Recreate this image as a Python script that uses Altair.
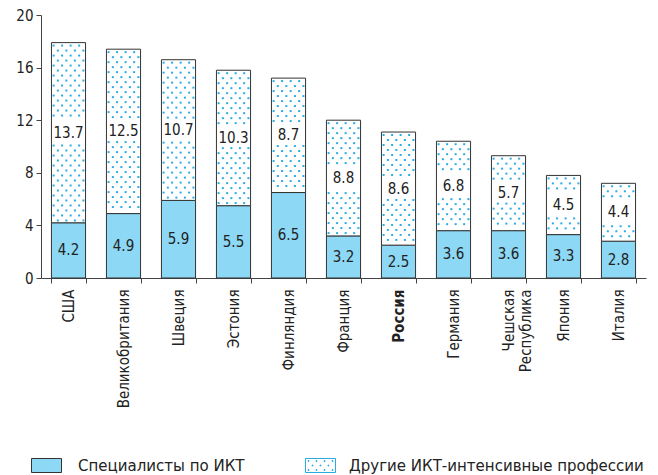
import altair as alt
import pandas as pd

countries = ["США", "Великобритания", "Швеция", "Эстония", "Финляндия", "Франция",
             "Россия", "Германия", "Чешская Республика", "Япония", "Италия"]
ict = [4.2, 4.9, 5.9, 5.5, 6.5, 3.2, 2.5, 3.6, 3.6, 3.3, 2.8]
other = [13.7, 12.5, 10.7, 10.3, 8.7, 8.8, 8.6, 6.8, 5.7, 4.5, 4.4]
series_names = ["Специалисты по ИКТ", "Другие ИКТ-интенсивные профессии"]
y_ticks = [0, 4, 8, 12, 16, 20]

FONT = "Liberation Sans Narrow, DejaVu Sans Condensed, sans-serif"
BLUE = "#8dd8f5"
DOT = "#29abe2"
EDGE = "#333333"

df = pd.DataFrame({"country": countries, "ict": ict, "other": other})
df["total"] = df["ict"] + df["other"]
df["mid_ict"] = df["ict"] / 2
df["mid_other"] = df["ict"] + df["other"] / 2
df["s1"] = series_names[0]
df["s2"] = series_names[1]

# dotted texture of the upper segments, derived from the data
ROW = 0.38
DOT_H = 0.15
dots = []
for c, a, b in zip(countries, ict, other):
    top = a + b
    mid = a + b / 2
    k = 0
    y = top - 0.3
    while y > a + 0.08:
        if abs(y - mid) > 0.85:
            cols = [0, 2, 4, 6] if k % 2 == 0 else [1, 3, 5, 7]
            for col in cols:
                dots.append({"country": c, "y": y, "y2": y + DOT_H, "col": col})
        k += 1
        y -= ROW
dots_df = pd.DataFrame(dots)

x_enc = alt.X(
    "country:N", sort=countries,
    scale=alt.Scale(paddingInner=0.38, paddingOuter=0.19),
    axis=alt.Axis(
        title=None, labelAngle=270, tickBand="extent", tickSize=5,
        labelPadding=6, labelFontSize=15, labelColor="#222222", labelFont=FONT,
        domainColor="#444444", tickColor="#444444",
        labelExpr="datum.value == 'Чешская Республика' ? ['Чешская', 'Республика'] : datum.value",
        labelFontWeight={"condition": {"test": "datum.value == 'Россия'", "value": "bold"},
                         "value": "normal"},
    ),
)
y_scale = alt.Scale(domain=[0, 20])
y_axis = alt.Axis(title=None, values=y_ticks, grid=False, tickSize=5, labelPadding=3,
                  labelFontSize=15, labelColor="#222222", labelFont=FONT,
                  domainColor="#444444", tickColor="#444444")

rect_path = "M-1,-0.467H1V0.467H-1Z"
dot_pos = [(-0.8, -0.3), (-0.27, -0.3), (0.27, -0.3), (0.8, -0.3),
           (-0.53, 0.0), (0.0, 0.0), (0.53, 0.0),
           (-0.8, 0.3), (-0.27, 0.3), (0.27, 0.3), (0.8, 0.3)]
dotted_path = rect_path + "".join(
    f"M{x - 0.03:.3f},{y - 0.03:.3f}h0.06v0.06h-0.06Z" for x, y in dot_pos)

legend_common = dict(orient="none", legendY=435, title=None, symbolSize=900,
                     symbolStrokeWidth=1, labelFont=FONT, labelFontSize=16.7,
                     labelColor="#222222", labelLimit=500, padding=0)

base = alt.Chart(df)

lower = base.mark_bar(stroke=EDGE, strokeWidth=1).encode(
    x=x_enc,
    y=alt.Y("ict:Q", scale=y_scale, axis=y_axis),
    fill=alt.Fill("s1:N", scale=alt.Scale(domain=[series_names[0]], range=[BLUE]),
                  legend=alt.Legend(legendX=-10, symbolType=rect_path,
                                    symbolStrokeColor=EDGE, labelOffset=16,
                                    **legend_common)),
)

upper = base.mark_bar(stroke=EDGE, strokeWidth=1).encode(
    x=x_enc,
    y=alt.Y("ict:Q", scale=y_scale, axis=y_axis),
    y2="total:Q",
    fill=alt.Fill("s2:N", scale=alt.Scale(domain=[series_names[1]], range=["white"]),
                  legend=alt.Legend(legendX=264, symbolType=dotted_path,
                                    symbolStrokeColor=DOT, labelOffset=13,
                                    **legend_common)),
)

dot_layer = alt.Chart(dots_df).mark_bar(width=2, color=DOT, stroke=None).encode(
    x=x_enc,
    xOffset=alt.XOffset("col:N", scale=alt.Scale(domain=list(range(8)),
                                                   paddingInner=0, paddingOuter=0)),
    y=alt.Y("y:Q", scale=y_scale),
    y2="y2:Q",
)

text_lower = base.mark_text(font=FONT, fontSize=15, color="#222222").encode(
    x=x_enc, y=alt.Y("mid_ict:Q", scale=y_scale),
    text=alt.Text("ict:Q", format=".1f"),
)
text_upper = base.mark_text(font=FONT, fontSize=15, color="#222222").encode(
    x=x_enc, y=alt.Y("mid_other:Q", scale=y_scale),
    text=alt.Text("other:Q", format=".1f"),
)

chart = alt.layer(lower, upper, dot_layer, text_lower, text_upper).resolve_scale(
    fill="independent"
).resolve_legend(fill="independent").properties(
    width=605, height=263,
    padding={"left": 33, "top": 7, "right": 4, "bottom": 196},
    autosize=alt.AutoSizeParams(type="none"),
    background="white",
).configure_view(stroke=None)

chart.save("out.html", embed_options={"renderer": "svg", "actions": False})
